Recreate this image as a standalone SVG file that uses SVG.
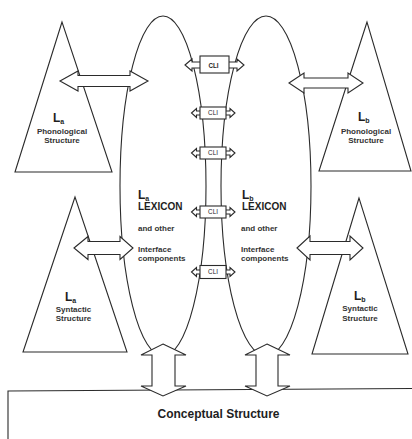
<svg xmlns="http://www.w3.org/2000/svg" width="412" height="439" viewBox="0 0 412 439">
  <style>
    .ln { fill: none; stroke: #2b2b2b; stroke-width: 1.1; }
    .sh { fill: #fff; stroke: #2b2b2b; stroke-width: 1.1; stroke-linejoin: miter; }
    text { font-family: "Liberation Sans", Arial, sans-serif; fill: #1e1e1e; }
    .big { font-size: 12px; font-weight: bold; }
    .sub { font-size: 7px; font-weight: bold; }
    .lbl { font-size: 8px; font-weight: bold; fill: #333; }
    .lex { font-size: 10px; font-weight: bold; }
    .cli { font-size: 6.3px; text-anchor: middle; }
    .mid { text-anchor: middle; }
  </style>

  <!-- language-specific structures -->
  <g id="la-phon">
    <polygon class="ln" points="62,22 15,172 112,172"/>
    <text class="big" x="53" y="122">L<tspan class="sub" dy="2">a</tspan></text>
    <text class="lbl mid" x="62" y="133.5">Phonological</text>
    <text class="lbl mid" x="62" y="143">Structure</text>
  </g>
  <g id="lb-phon">
    <polygon class="ln" points="367,22 319,171 411,171"/>
    <text class="big" x="358" y="121">L<tspan class="sub" dy="2">b</tspan></text>
    <text class="lbl mid" x="366" y="133.5">Phonological</text>
    <text class="lbl mid" x="366" y="143">Structure</text>
  </g>
  <g id="la-syn">
    <polygon class="ln" points="75,197 23,352 127,352"/>
    <text class="big" x="65" y="300.5">L<tspan class="sub" dy="2">a</tspan></text>
    <text class="lbl mid" x="73.5" y="311.5">Syntactic</text>
    <text class="lbl mid" x="73.5" y="320.5">Structure</text>
  </g>
  <g id="lb-syn">
    <polygon class="ln" points="359,198 312,354 408,354"/>
    <text class="big" x="354" y="300">L<tspan class="sub" dy="2">b</tspan></text>
    <text class="lbl mid" x="360" y="311">Syntactic</text>
    <text class="lbl mid" x="360" y="320.5">Structure</text>
  </g>

  <!-- lexicons -->
  <g id="la-lexicon">
    <ellipse class="ln" cx="163" cy="186" rx="43" ry="170"/>
    <text class="big" x="138" y="198.5">L<tspan class="sub" dy="2">a</tspan></text>
    <text class="lex" x="138" y="210">LEXICON</text>
    <text class="lbl" x="138" y="230.5">and other</text>
    <text class="lbl" x="138" y="251.5">Interface</text>
    <text class="lbl" x="138" y="260.5">components</text>
  </g>
  <g id="lb-lexicon">
    <ellipse class="ln" cx="266" cy="186" rx="45" ry="170"/>
    <text class="big" x="242" y="198.5">L<tspan class="sub" dy="2">b</tspan></text>
    <text class="lex" x="242" y="210">LEXICON</text>
    <text class="lbl" x="241" y="230.5">and other</text>
    <text class="lbl" x="241" y="251.5">Interface</text>
    <text class="lbl" x="241" y="260.5">components</text>
  </g>

  <!-- conceptual structure (box runs off the lower edge) -->
  <g id="conceptual">
    <polyline class="ln" points="8,440 8,391 412,388.5"/>
    <text class="mid" x="218.5" y="417.5" font-size="12" font-weight="bold">Conceptual Structure</text>
  </g>

  <!-- interface connectors -->
  <g id="connectors">
    <path class="sh" d="M60,81 L78,71 L78,75.5 L130,75.5 L130,71 L148,81 L130,91 L130,86.5 L78,86.5 L78,91 Z"/>
    <path class="sh" d="M289,83 L304,73 L304,78 L348,78 L348,73 L363,83 L348,93 L348,88 L304,88 L304,93 Z"/>
    <path class="sh" d="M74,248 L88,236.5 L88,241.5 L120,241.5 L120,236.5 L133,248 L120,259.5 L120,254.5 L88,254.5 L88,259.5 Z"/>
    <path class="sh" d="M297,248 L310,236 L310,241.5 L350,241.5 L350,236 L363,248 L350,260 L350,254.5 L310,254.5 L310,260 Z"/>
    <path class="sh" d="M163,344 L186,355 L175,355 L175,386 L186,386 L163,396 L141,386 L152,386 L152,355 L141,355 Z"/>
    <path class="sh" d="M267,344 L290,355 L278,355 L278,386 L290,386 L267,396 L245,386 L256,386 L256,355 L245,355 Z"/>
  </g>

  <!-- cross-linguistic interface links -->
  <g id="cli-1">
    <path class="sh" d="M185,65 L192,59 L192,62 L237,62 L237,59 L244,65 L237,71 L237,68 L192,68 L192,71 Z"/>
    <rect class="sh" x="200" y="56" width="29" height="17"/>
    <text class="cli" x="213.5" y="67.5" font-weight="bold" font-size="7">CLI</text>
  </g>
  <g id="cli-2">
    <path class="sh" d="M191.5,113 L196.5,108.5 L196.5,111 L230,111 L230,108.5 L235,113 L230,117.5 L230,115 L196.5,115 L196.5,117.5 Z"/>
    <rect class="sh" x="200" y="107" width="26" height="12"/>
    <text class="cli" x="213" y="115.3">CLI</text>
  </g>
  <g id="cli-3">
    <path class="sh" d="M191.5,153 L196.5,148.5 L196.5,151 L230,151 L230,148.5 L235,153 L230,157.5 L230,155 L196.5,155 L196.5,157.5 Z"/>
    <rect class="sh" x="200" y="147" width="26" height="12"/>
    <text class="cli" x="213" y="155.3">CLI</text>
  </g>
  <g id="cli-4">
    <path class="sh" d="M191.5,212 L196.5,207.5 L196.5,210 L230,210 L230,207.5 L235,212 L230,216.5 L230,214 L196.5,214 L196.5,216.5 Z"/>
    <rect class="sh" x="200" y="206" width="26" height="12"/>
    <text class="cli" x="213" y="214.3">CLI</text>
  </g>
  <g id="cli-5">
    <path class="sh" d="M191.5,272 L196.5,267.5 L196.5,270 L230,270 L230,267.5 L235,272 L230,276.5 L230,274 L196.5,274 L196.5,276.5 Z"/>
    <rect class="sh" x="200" y="265.5" width="26" height="13"/>
    <text class="cli" x="213" y="274.3">CLI</text>
  </g>
</svg>
